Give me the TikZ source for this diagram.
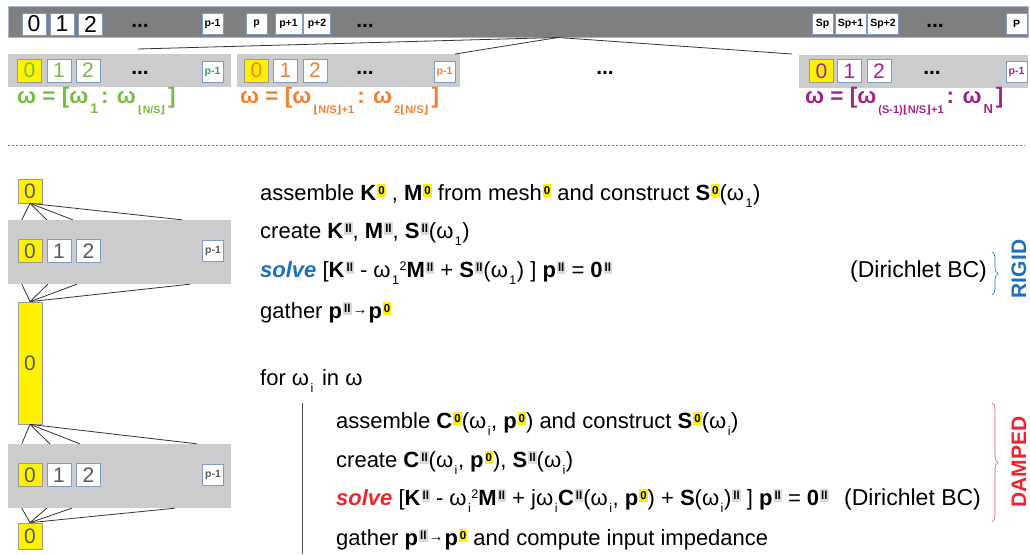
\documentclass[tikz,border=0pt]{standalone}
\usepackage{fontspec}
\setmainfont{Liberation Sans}
\newfontfamily\floorfont{DejaVu Sans}
\usetikzlibrary{decorations.pathreplacing,positioning}
\definecolor{barfill}{HTML}{7F7F7F}
\definecolor{barline}{HTML}{A9B8CF}
\definecolor{grpfill}{HTML}{CCCCCC}
\definecolor{cellline}{HTML}{7F9CC8}
\definecolor{digitgray}{HTML}{595959}
\definecolor{grpgreen}{HTML}{77BC43}
\definecolor{grpteal}{HTML}{1AA57A}
\definecolor{grporange}{HTML}{F4812F}
\definecolor{grppurple}{HTML}{A3238E}
\definecolor{rigidblue}{HTML}{1F6FBF}
\definecolor{dampred}{HTML}{EE2530}
\definecolor{hiyellow}{HTML}{FFF200}
\definecolor{higray}{HTML}{DADADA}
% highlighted superscripts and low subscripts
\newcommand\hz{\kern1pt\raisebox{6pt}{\setlength{\fboxsep}{1pt}\colorbox{hiyellow}{\rule[-1.5pt]{0pt}{11pt}\fontsize{11.5}{11.5}\selectfont\bfseries 0}}}
\newcommand\hg{\kern1pt\raisebox{6pt}{\setlength{\fboxsep}{1pt}\colorbox{higray}{\rule[-1.5pt]{0pt}{11pt}\fontsize{11.5}{11.5}\selectfont\bfseries ll}}}
\newcommand\lo[1]{\kern1.5pt\raisebox{-7pt}{\fontsize{12.5}{12.5}\selectfont #1}\kern0.5pt}
\newcommand\hi[1]{\raisebox{7pt}{\fontsize{12.5}{12.5}\selectfont #1}}
\newcommand\lw[2][11]{\kern2pt\raisebox{-10pt}{\fontsize{#1}{#1}\selectfont\bfseries #2}\kern3pt}
\newcommand\fl[1]{{\floorfont #1}}
\newcommand\tto{\kern1pt\raisebox{4pt}{\fontsize{15}{15}\selectfont→}\kern1pt}
\tikzset{
  bar/.style={draw=barline, fill=barfill, line width=0.8pt, inner sep=0pt},
  grp/.style={fill=grpfill, inner sep=0pt, minimum width=223pt},
  cell/.style={draw=cellline, fill=white, line width=0.7pt, inner sep=0pt,
    minimum width=24pt, minimum height=23pt, font=\fontsize{21}{21}\selectfont},
  bigcell/.style={cell, minimum height=22pt, font=\fontsize{23}{23}\selectfont},
  tag/.style={cell, minimum width=21pt, minimum height=21pt,
    font=\fontsize{10.5}{10.5}\selectfont\bfseries},
  zero/.style={cell, fill=yellow, draw=black!40},
  dots/.style={inner sep=0pt, font=\fontsize{21}{21}\selectfont\bfseries},
  code/.style={anchor=base west, inner sep=0pt, font=\fontsize{22}{22}\selectfont},
  note/.style={code, font=\fontsize{23}{23}\selectfont},
  omega/.style={anchor=base west, inner sep=0pt, font=\fontsize{22.5}{22.5}\selectfont\bfseries},
  fan/.style={draw=black!80, line width=0.8pt},
  side/.style={rotate=90, inner sep=0pt, font=\fontsize{21}{21}\selectfont\bfseries},
}

\begin{document}
\begin{tikzpicture}[x=1pt, y=-1pt]
  \useasboundingbox (0,0) rectangle (1030,554);
  % all processes
  \node[bar, minimum width=1020pt, minimum height=31pt] (bar) at (518,21.5) {};
  \node[bigcell] (t0) at (34,24) {0};
  \node[bigcell] (t1) at (62,24) {1};
  \node[bigcell] (t2) at (90.5,24) {2};
  \node[dots] (td1) at (140,26) {...};
  \node[tag] (tq) at (212.5,24) {p-1};
  \node[tag] (tp) at (256.5,24) {p};
  \node[tag, minimum width=27pt] (tpa) at (288.5,24) {p+1};
  \node[tag, minimum width=27pt] (tpb) at (317,24) {p+2};
  \node[dots] (td2) at (365,26) {...};
  \node[tag] (ts) at (822.5,24) {Sp};
  \node[tag, minimum width=31pt] (tsa) at (850.5,24) {Sp+1};
  \node[tag, minimum width=31pt] (tsb) at (883,24) {Sp+2};
  \node[dots] (td3) at (935,26) {...};
  \node[tag] (tP) at (1016.5,24) {P};

  % groups of p processes
  \node[grp, minimum height=33pt] (g1) at (119.5,70.5) {};
  \node[zero, text=grpgreen] (g1c0) at (29.5,70.5) {0};
  \node[cell, text=grpgreen] (g1c1) at (59,70.5) {1};
  \node[cell, text=grpgreen] (g1c2) at (88,70.5) {2};
  \node[dots] (g1d) at (140,73) {...};
  \node[tag, text=grpteal] (g1q) at (212.5,71.5) {p-1};
  \node[grp, minimum height=33pt] (g2) at (348.5,70.5) {};
  \node[zero, text=grporange] (g2c0) at (256.5,70.5) {0};
  \node[cell, text=grporange] (g2c1) at (285.5,70.5) {1};
  \node[cell, text=grporange] (g2c2) at (315,70.5) {2};
  \node[dots] (g2d) at (365,73) {...};
  \node[tag, text=grporange] (g2q) at (444.5,71.5) {p-1};
  \node[dots] (gd) at (605,73) {...};
  \node[grp, minimum width=229pt, minimum height=33pt] (g3) at (913.5,71) {};
  \node[zero, text=grppurple] (g3c0) at (821.5,71) {0};
  \node[cell, text=grppurple] (g3c1) at (849.5,71) {1};
  \node[cell, text=grppurple] (g3c2) at (879,71) {2};
  \node[dots] (g3d) at (932,73) {...};
  \node[tag, text=grppurple] (g3q) at (1016.5,72) {p-1};
  \coordinate (apex) at (558,37.5);
  \coordinate (g1e) at (138,49);
  \coordinate (g2e) at (455,54);
  \coordinate (g3e) at (792,54);
  \draw[fan] (apex) -- (g1e);
  \draw[fan] (apex) -- (g2e);
  \draw[fan] (apex) -- (g3e);
  \node[omega, text=grpgreen] (w1) at (17,103)
    {ω = [ω\lw[14]{1}: ω\lw[10.5]{\fl{⌊}N/S\fl{⌋}}]};
  \node[omega, text=grporange] (w2) at (240,103)
    {ω = [ω\lw{\fl{⌊}N/S\fl{⌋}+1}: ω\lw{2\fl{⌊}N/S\fl{⌋}}]};
  \node[omega, text=grppurple] (w3) at (805,103)
    {ω = [ω\lw{(S-1)\fl{⌊}N/S\fl{⌋}+1}: ω\lw[13]{N}]};

  \draw[black!50, line width=0.7pt, dash pattern=on 2pt off 2pt] (8,145) -- (1025,145);

  % one group, levels 0 and ll
  \node[zero, text=digitgray, minimum height=24pt] (z0) at (30,191) {0};
  \node[grp, minimum height=64pt] (gA) at (119.5,252) {};
  \node[zero, text=digitgray] (gA0) at (30,251) {0};
  \node[cell, text=digitgray] (gA1) at (59,251) {1};
  \node[cell, text=digitgray] (gA2) at (88.5,251) {2};
  \node[tag, text=digitgray] (gAq) at (213,251) {p-1};
  \node[zero, text=digitgray, minimum height=122pt] (z1) at (30,363) {0};
  \node[grp, minimum height=64pt] (gB) at (119.5,476) {};
  \node[zero, text=digitgray] (gB0) at (30,475) {0};
  \node[cell, text=digitgray] (gB1) at (59,475) {1};
  \node[cell, text=digitgray] (gB2) at (88.5,475) {2};
  \node[tag, text=digitgray] (gBq) at (213,475) {p-1};
  \node[zero, text=digitgray, minimum height=26pt] (z2) at (30,536) {0};
  \foreach \dx in {14,39,65,174}
    \draw[fan] (z0.south) -- ([xshift=\dx pt]gA.north west);
  \foreach \dx in {14,40,69,182}
    \draw[fan] ([xshift=\dx pt]gA.south west) -- (z1.north);
  \foreach \dx in {14,42,72,189}
    \draw[fan] (z1.south) -- ([xshift=\dx pt]gB.north west);
  \foreach \dx in {14,39,64,167}
    \draw[fan] ([xshift=\dx pt]gB.south west) -- (z2.north);

  % rigid part
  \node[code] (l1) at (260,200) {assemble \textbf{K}\hz\ , \textbf{M}\hz\ from mesh\hz\ and construct \textbf{S}\hz(ω\lo{1})};
  \node[code] (l2) at (260,238) {create \textbf{K}\hg, \textbf{M}\hg, \textbf{S}\hg(ω\lo{1})};
  \node[code] (l3) at (260,277) {\textcolor{rigidblue}{\textbf{\textit{solve}}} [\textbf{K}\hg\ - ω\lo{1}\hi{2}\textbf{M}\hg\ + \textbf{S}\hg(ω\lo{1}) ] \textbf{p}\hg\ = \textbf{0}\hg};
  \node[code] (l4) at (260,318) {gather \textbf{p}\hg\tto\textbf{p}\hz};
  \node[note] (bc1) at (850,277) {(Dirichlet BC)};
  \draw[rigidblue, line width=0.6pt, decorate, decoration={brace, amplitude=6pt}] (992,252) -- (992,295);
  \node[side, text=rigidblue] (rigid) at (1019,269) {RIGID};

  % damped part
  \node[code] (l5) at (260,385) {for ω\lo{i}\kern2pt{} in ω};
  \draw[black!70, line width=0.8pt] (302,403) -- (302,554);
  \node[code] (l6) at (336,428) {assemble \textbf{C}\hz(ω\lo{i}, \textbf{p}\hz) and construct \textbf{S}\hz(ω\lo{i})};
  \node[code] (l7) at (336,467) {create \textbf{C}\hg(ω\lo{i}, \textbf{p}\hz), \textbf{S}\hg(ω\lo{i})};
  \node[code] (l8) at (336,505) {\textcolor{dampred}{\textbf{\textit{solve}}} [\textbf{K}\hg\ - ω\lo{i}\hi{2}\textbf{M}\hg\ + jω\lo{i}\textbf{C}\hg(ω\lo{i}, \textbf{p}\hz) + \textbf{S}(ω\lo{i})\hg\ ] \textbf{p}\hg\ = \textbf{0}\hg};
  \node[note] (bc2) at (844,505) {(Dirichlet BC)};
  \node[code] (l9) at (336,545) {gather \textbf{p}\hg\tto\textbf{p}\hz\ and compute input impedance};
  \draw[dampred!80, line width=0.6pt, decorate, decoration={brace, amplitude=6pt}] (992,403) -- (992,522);
  \node[side, text=dampred] (damped) at (1019,462) {DAMPED};
\end{tikzpicture}
\end{document}
